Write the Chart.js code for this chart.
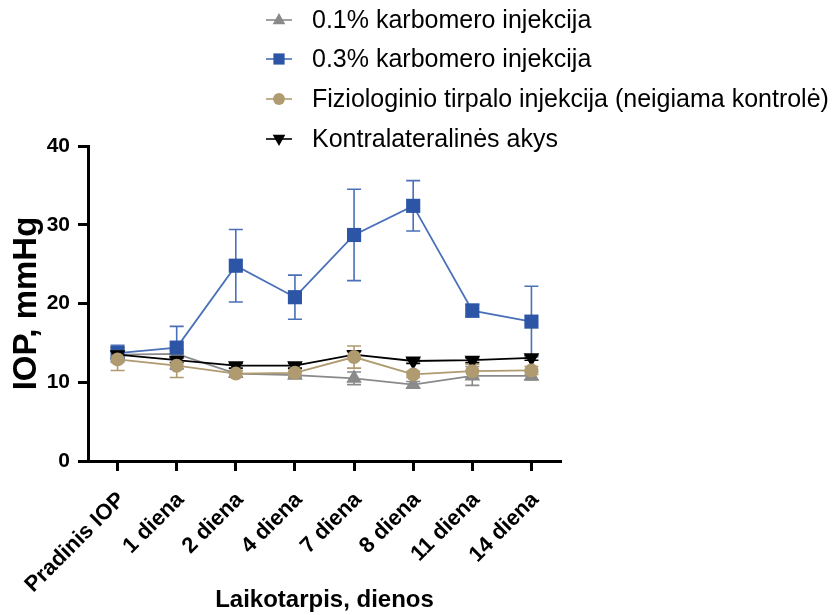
<!DOCTYPE html>
<html>
<head>
<meta charset="utf-8">
<script src="https://cdn.jsdelivr.net/npm/chart.js@4.4.0/dist/chart.umd.min.js"></script>
<style>
  html, body { margin: 0; padding: 0; background: #fff; }
  #wrap { width: 839px; height: 615px; position: relative; }
</style>
</head>
<body>
<div id="wrap"><canvas id="iopChart" width="839" height="615"></canvas></div>
<script>
var labels = ["Pradinis IOP", "1 diena", "2 diena", "4 diena", "7 diena", "8 diena", "11 diena", "14 diena"];
var seriesNames = ["0.1% karbomero injekcija", "0.3% karbomero injekcija", "Fiziologinio tirpalo injekcija (neigiama kontrolė)", "Kontralateralinės akys"];

var carb01 = [13.5, 13.6, 11.1, 10.9, 10.5, 9.7, 10.8, 10.8];
var carb01Err = [1.0, 0.5, 0.4, 0.4, 0.8, 0.4, 1.2, 0.5];
var carb03 = [13.7, 14.4, 24.8, 20.8, 28.7, 32.4, 19.1, 17.7];
var carb03Err = [1.0, 2.7, 4.6, 2.8, 5.8, 3.2, 0.8, 4.5];
var saline = [12.9, 12.1, 11.1, 11.2, 13.2, 11.0, 11.4, 11.5];
var salineErr = [1.4, 1.5, 0.4, 0.5, 1.4, 0.4, 0.9, 0.5];
var contra = [13.5, 12.8, 12.1, 12.1, 13.5, 12.7, 12.8, 13.1];
var contraErr = [0.4, 0.3, 0.3, 0.3, 0.5, 0.3, 0.3, 0.3];

var colors = ["#8a8a8a", "#2c55a6", "#b09b70", "#000000"];
var lineColors = ["#8a8a8a", "#4a70b8", "#b09b70", "#000000"];
var errors = [carb01Err, carb03Err, salineErr, contraErr];
var fontFam = "'Liberation Sans', Arial, sans-serif";

function series(i, data, style, radius, rot, order) {
  return {
    label: seriesNames[i],
    data: data,
    borderColor: lineColors[i],
    backgroundColor: colors[i],
    pointBackgroundColor: colors[i],
    pointBorderColor: colors[i],
    pointBorderWidth: 0,
    borderWidth: 1.8,
    pointStyle: style,
    pointRadius: radius,
    pointRotation: rot,
    tension: 0,
    order: order
  };
}

// error bars drawn under the points
var errorBars = {
  id: "errorBars",
  beforeDatasetsDraw: function(chart) {
    var ctx = chart.ctx;
    var y = chart.scales.y;
    ctx.save();
    chart.data.datasets.forEach(function(ds, i) {
      var meta = chart.getDatasetMeta(i);
      ctx.strokeStyle = lineColors[i];
      ctx.lineWidth = 1.6;
      meta.data.forEach(function(pt, j) {
        var v = ds.data[j], e = errors[i][j];
        var top = y.getPixelForValue(v + e), bot = y.getPixelForValue(v - e);
        ctx.beginPath();
        ctx.moveTo(pt.x, top); ctx.lineTo(pt.x, bot);
        ctx.moveTo(pt.x - 7, top); ctx.lineTo(pt.x + 7, top);
        ctx.moveTo(pt.x - 7, bot); ctx.lineTo(pt.x + 7, bot);
        ctx.stroke();
      });
    });
    ctx.restore();
  }
};

function drawMarker(ctx, style, x, y, r) {
  ctx.beginPath();
  if (style === "up") {
    ctx.moveTo(x, y - r); ctx.lineTo(x + r * 0.9, y + r * 0.6); ctx.lineTo(x - r * 0.9, y + r * 0.6);
  } else if (style === "down") {
    ctx.moveTo(x, y + r); ctx.lineTo(x + r * 0.9, y - r * 0.6); ctx.lineTo(x - r * 0.9, y - r * 0.6);
  } else if (style === "square") {
    ctx.rect(x - r * 0.8, y - r * 0.8, r * 1.6, r * 1.6);
  } else {
    ctx.arc(x, y, r * 0.85, 0, Math.PI * 2);
  }
  ctx.closePath();
  ctx.fill();
}

var legendBox = {
  id: "legendBox",
  afterDraw: function(chart) {
    var ctx = chart.ctx;
    var rows = [20, 59, 99, 139];
    var styles = ["up", "square", "circle", "down"];
    ctx.save();
    ctx.font = "25px " + fontFam;
    ctx.textBaseline = "middle";
    for (var i = 0; i < 4; i++) {
      ctx.strokeStyle = lineColors[i];
      ctx.lineWidth = 1.6;
      ctx.beginPath();
      ctx.moveTo(266, rows[i]); ctx.lineTo(292, rows[i]);
      ctx.stroke();
      ctx.fillStyle = colors[i];
      drawMarker(ctx, styles[i], 279, rows[i], 7);
      ctx.fillStyle = "#000";
      ctx.fillText(seriesNames[i], 312, rows[i] + 1);
    }
    ctx.restore();
  }
};

new Chart(document.getElementById("iopChart"), {
  type: "line",
  data: {
    labels: labels,
    datasets: [
      series(0, carb01, "triangle", 9, 0, 4),
      series(1, carb03, "rect", 10, 0, 3),
      series(2, saline, "circle", 7, 0, 1),
      series(3, contra, "triangle", 9, 180, 2)
    ]
  },
  options: {
    responsive: false,
    animation: false,
    layout: { padding: { top: 146, right: 278, left: 0, bottom: 0 } },
    plugins: { legend: { display: false }, tooltip: { enabled: false } },
    scales: {
      x: {
        offset: true,
        grid: { drawOnChartArea: false, drawTicks: true, tickLength: 10, tickWidth: 3, tickColor: "#000" },
        border: { display: true, width: 3, color: "#000" },
        ticks: {
          autoSkip: false, minRotation: 45, maxRotation: 45, color: "#000", padding: 16, labelOffset: 4,
          font: { family: fontFam, size: 22, weight: "bold" }
        },
        title: {
          display: true, text: "Laikotarpis, dienos", color: "#000",
          font: { family: fontFam, size: 24, weight: "bold" },
          padding: { top: 0, bottom: 0 }
        },
        afterFit: function(s) { s.height = 154; }
      },
      y: {
        min: 0, max: 40,
        grid: { drawOnChartArea: false, drawTicks: true, tickLength: 10, tickWidth: 3, tickColor: "#000" },
        border: { display: true, width: 3, color: "#000" },
        ticks: {
          stepSize: 10, color: "#000", padding: 8,
          font: { family: fontFam, size: 21, weight: "bold" }
        },
        title: {
          display: true, text: "IOP, mmHg", color: "#000",
          font: { family: fontFam, size: 33, weight: "bold" },
          padding: { top: 7, bottom: 0 }
        },
        afterFit: function(s) { s.width = 88; }
      }
    }
  },
  plugins: [errorBars, legendBox]
});
</script>
</body>
</html>
